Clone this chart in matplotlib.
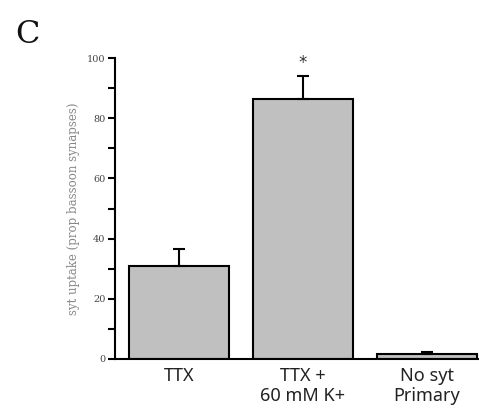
import numpy as np
import matplotlib
matplotlib.use("Agg")
import matplotlib.pyplot as plt
from matplotlib.ticker import MultipleLocator

categories = ["TTX", "TTX +\n60 mM K+", "No syt\nPrimary"]
means = [31, 86.3, 1.7]
errors = [5.7, 7.7, 0.6]
yticks = [0, 20, 40, 60, 80, 100]

fig = plt.figure(figsize=(4.79, 4.20), dpi=100)
ax = fig.add_axes([115/479, 61/420, 364/479, 301/420])

x = np.arange(len(categories))
ax.bar(x, means, width=0.8, color="#c0c0c0", edgecolor="black", linewidth=1.5, zorder=2)
ax.errorbar(x, means, yerr=[[0]*3, errors], fmt="none", ecolor="black",
            elinewidth=1.5, capsize=4, capthick=1.5, zorder=3)
ax.text(1, means[1] + errors[1] + 4.5, "*", ha="center", va="center", fontsize=12,
        color="#333333", family="DejaVu Sans")

ax.set_xlim(-0.516, 2.42)
ax.set_ylim(0, 100)
ax.set_yticks(yticks)
ax.yaxis.set_minor_locator(MultipleLocator(10))
ax.set_xticks(x)
ax.set_xticklabels(categories, fontsize=13, family="Noto Sans", color="#222222",
                   linespacing=1.1)
ax.tick_params(axis="x", length=0, pad=6)
ax.tick_params(axis="y", which="both", direction="out", length=5, width=1.5,
               labelsize=7, labelcolor="#444444", pad=2)
for lab in ax.get_yticklabels():
    lab.set_family("DejaVu Serif")
ax.spines["top"].set_visible(False)
ax.spines["right"].set_visible(False)
ax.spines["left"].set_linewidth(1.5)
ax.spines["bottom"].set_linewidth(1.5)
ax.set_ylabel("syt uptake (prop bassoon synapses)", fontsize=8.5, color="#888888",
              family="DejaVu Serif", labelpad=5)

fig.text(15/479, 1 - 43/420, "C", fontsize=23, family="DejaVu Serif", color="#111111")

fig.savefig("out.png", dpi=100)
